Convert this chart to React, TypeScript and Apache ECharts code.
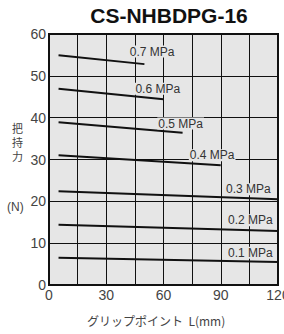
import React, { useEffect, useRef } from "react";
import * as echarts from "echarts";

const pressures = ["0.7 MPa", "0.6 MPa", "0.5 MPa", "0.4 MPa", "0.3 MPa", "0.2 MPa", "0.1 MPa"];
const startX = [5, 5, 5, 5, 5, 5, 5];
const endX = [50, 60, 70, 90, 120, 120, 120];
const startY = [54.9, 46.9, 38.9, 31.0, 22.4, 14.4, 6.5];
const endY = [52.8, 44.4, 36.4, 28.6, 20.5, 12.9, 5.5];
const labelX = [54, 57, 69, 85.5, 104.5, 105.5, 105.5];
const labelY = [55.8, 46.9, 38.6, 31.0, 22.9, 15.5, 7.7];

const xTicks = [0, 30, 60, 90, 120];
const yNameChars = ["把", "持", "力"];

const FONT = "'Liberation Sans', Arial, sans-serif";
const JP = "'Noto Sans CJK JP', sans-serif";
const BG = "#e6e6e6";

export default function App() {
  const ref = useRef<HTMLDivElement>(null);
  useEffect(() => {
    if (!ref.current) return;
    const chart = echarts.init(ref.current, undefined, { renderer: "svg" });
    const series: any[] = pressures.map((p, i) => ({
      type: "line",
      name: p,
      data: [
        [startX[i], startY[i]],
        [endX[i], endY[i]],
      ],
      symbol: "none",
      lineStyle: { color: "#111", width: 2 },
      z: 3,
      markPoint: {
        symbol: "rect",
        symbolSize: 0,
        data: [{ coord: [labelX[i], labelY[i]] }],
        label: {
          show: true,
          formatter: p,
          position: "inside",
          color: "#333",
          fontSize: 12,
          fontFamily: FONT,
          backgroundColor: BG,
          padding: [0, 1],
        },
        z: 4,
      },
    }));
    chart.setOption({
      animation: false,
      title: {
        text: "CS-NHBDPG-16",
        left: 164,
        top: 0,
        textAlign: "center",
        textStyle: { fontSize: 21, fontWeight: "bold", color: "#111", fontFamily: FONT },
      },
      grid: {
        left: 49,
        top: 34,
        right: 6,
        bottom: 49,
        show: true,
        backgroundColor: BG,
        borderWidth: 0,
        outerBoundsMode: "none",
        containLabel: false,
      },
      xAxis: {
        type: "value",
        min: 0,
        max: 120,
        interval: 15,
        axisLine: { show: true, onZero: false, lineStyle: { color: "#111", width: 2 } },
        axisTick: { show: false },
        splitLine: { show: true, lineStyle: { color: "#111", width: 1 } },
        axisLabel: {
          fontSize: 14,
          color: "#444",
          fontFamily: FONT,
          margin: 3,
          formatter: (v: number) => (xTicks.includes(v) ? String(v) : ""),
        },
      },
      yAxis: {
        type: "value",
        min: 0,
        max: 60,
        interval: 10,
        axisLine: { show: true, lineStyle: { color: "#111", width: 2 } },
        axisTick: { show: false },
        splitLine: { show: true, lineStyle: { color: "#111", width: 1 } },
        axisLabel: { fontSize: 14, color: "#444", fontFamily: FONT, margin: 3 },
      },
      graphic: [
        {
          type: "rect",
          shape: { x: 0, y: 0, width: 229, height: 251 },
          x: 49,
          y: 34,
          style: { fill: "none", stroke: "#111", lineWidth: 2 },
          z: 10,
        },
        ...yNameChars.map((c, i) => ({
          type: "text",
          left: 12,
          top: 122 + i * 14,
          style: { text: c, fontSize: 11, fill: "#444", fontFamily: JP },
        })),
        {
          type: "text",
          left: 7,
          top: 201,
          style: { text: "(N)", fontSize: 12, fill: "#444", fontFamily: FONT },
        },
        {
          type: "text",
          left: 87,
          top: 314,
          style: { text: "グリップポイント  L(mm)", fontSize: 12, fill: "#444", fontFamily: JP },
        },
      ],
      series,
    });
    return () => chart.dispose();
  }, []);
  return <div ref={ref} style={{ width: 284, height: 334, position: "absolute", left: 0, top: 0 }} />;
}
